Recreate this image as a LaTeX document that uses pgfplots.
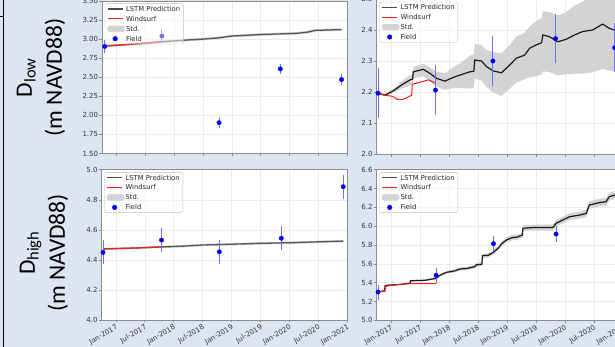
\documentclass[border=0pt]{standalone}
\usepackage{pgfplots}
\pgfplotsset{compat=1.18}
\usepackage{pgfplotstable}
\usepackage{fontspec}
\setmainfont{DejaVu Sans}
\newfontfamily\carlito{Carlito}
\definecolor{bgblue}{HTML}{DCE6F2}
\definecolor{spine}{HTML}{8C8C8C}
\definecolor{stdgray}{HTML}{D3D3D3}
\definecolor{errblue}{HTML}{7070FF}
\definecolor{wsred}{HTML}{FF1A1A}

\pgfplotstableread{
x y
2016.80 2.910
2017.00 2.918
2017.30 2.935
2017.55 2.950
2017.79 2.965
2018.15 2.985
2018.50 3.000
2018.75 3.015
2019.00 3.040
2019.50 3.060
2020.10 3.075
2020.30 3.090
2020.45 3.115
2020.90 3.125
}\tlLSTM

\pgfplotstableread{
x y
2016.782 2.197
2016.902 2.191
2017.045 2.205
2017.189 2.224
2017.332 2.240
2017.375 2.242
2017.388 2.266
2017.560 2.274
2017.675 2.261
2017.790 2.245
2017.933 2.236
2018.076 2.248
2018.247 2.259
2018.363 2.266
2018.431 2.268
2018.448 2.304
2018.564 2.301
2018.649 2.283
2018.763 2.269
2018.907 2.263
2019.050 2.288
2019.165 2.310
2019.308 2.320
2019.393 2.342
2019.509 2.353
2019.600 2.360
2019.622 2.385
2019.737 2.379
2019.880 2.363
2020.024 2.371
2020.167 2.385
2020.309 2.396
2020.481 2.401
2020.653 2.420
2020.768 2.406
2020.854 2.401
2021.000 2.400
}\trLSTM

\pgfplotstableread{
x y
2016.78 4.473
2017.00 4.475
2017.40 4.480
2017.79 4.486
2018.20 4.492
2018.51 4.499
2019.00 4.504
2019.50 4.510
2020.10 4.515
2020.50 4.520
2020.93 4.525
}\blLSTM

\pgfplotstableread{
x y
2016.777 5.300
2016.873 5.311
2016.893 5.311
2016.902 5.368
2016.988 5.375
2017.160 5.380
2017.275 5.390
2017.330 5.395
2017.340 5.420
2017.590 5.425
2017.784 5.446
2017.850 5.480
2017.962 5.510
2018.105 5.525
2018.190 5.545
2018.306 5.550
2018.448 5.570
2018.478 5.590
2018.570 5.595
2018.580 5.686
2018.677 5.690
2018.763 5.720
2018.849 5.765
2018.907 5.810
2018.993 5.853
2019.079 5.876
2019.192 5.886
2019.268 5.906
2019.278 5.978
2019.450 5.985
2019.794 5.985
2019.852 6.031
2019.966 6.066
2020.081 6.100
2020.253 6.118
2020.368 6.135
2020.424 6.225
2020.596 6.250
2020.711 6.260
2020.768 6.313
2020.854 6.330
2021.000 6.360
}\brLSTM

\pgfplotsset{
  panel/.style={
    scale only axis,
    axis background/.style={fill=white},
    xmin=2016.75, xmax=2021,
    xtick={2017,2017.5,2018,2018.5,2019,2019.5,2020,2020.5,2021},
    tick align=outside, tick pos=left, major tick length=2.5pt,
    tick style={spine, line width=0.5pt},
    axis line style={spine, line width=0.6pt},
    grid=major, grid style={black!8, line width=0.4pt},
    tick label style={font=\fontsize{7}{8}\selectfont, text=black!80},
    yticklabel style={inner sep=1pt},
    /pgf/number format/assume math mode=true,
    legend cell align=left,
    legend image code/.code={\draw[mark repeat=2,mark phase=2,#1] plot coordinates {(0pt,0pt) (7.5pt,0pt) (15pt,0pt)};},
    legend style={at={(0,1)}, anchor=north west, xshift=3pt, yshift=-2.5pt,
      draw=black!25, fill=white, fill opacity=0.45, text opacity=1, draw opacity=1,
      rounded corners=1.5pt, font=\fontsize{6.8}{8}\selectfont, text=black!85,
      inner xsep=2pt, inner ysep=1.5pt, row sep=2.3pt,
      nodes={inner sep=1.2pt, text height=5pt, text depth=0.2pt}},
  },
  xlab/.style={
    xticklabels={Jan-2017,Jul-2017,Jan-2018,Jul-2018,Jan-2019,Jul-2019,Jan-2020,Jul-2020,Jan-2021},
    xticklabel style={rotate=30, anchor=north east, inner sep=1pt},
  },
  nolab/.style={xticklabels={}},
  fieldstyle/.style={only marks, mark=*, mark size=2.2pt, color=blue, forget plot,
    error bars/.cd, y dir=both, y explicit, error mark=none,
    error bar style={errblue, line width=0.8pt}},
}

\newcommand{\mylegend}{%
  \addlegendimage{color=black!70, line width=1.3pt, opacity=1}
  \addlegendentry{LSTM Prediction}
  \addlegendimage{color=wsred, line width=1.2pt, opacity=1}
  \addlegendentry{Windsurf}
  \addlegendimage{area legend, color=stdgray, fill=stdgray, opacity=1}
  \addlegendentry{Std.}
  \addlegendimage{only marks, mark=*, color=blue, mark size=2.3pt, opacity=1}
  \addlegendentry{Field}
}

\begin{document}
\begin{tikzpicture}
\fill[bgblue] (0pt,0pt) rectangle (615pt,347pt);
\draw[black, line width=0.9pt] (3pt,0pt) -- (3pt,347pt);
\draw[black, line width=0.9pt] (0pt,331pt) -- (3pt,331pt);

% ---------- Top-left ----------
\begin{axis}[panel, nolab, at={(101.8pt,193.5pt)}, anchor=south west,
  width=245.5pt, height=152.5pt, ymin=1.5, ymax=3.5,
  ytick={1.5,1.75,2,2.25,2.5,2.75,3,3.25,3.5},
  yticklabel style={/pgf/number format/.cd, fixed, fixed zerofill, precision=2}]
\addplot[stdgray, line width=2.6pt, forget plot] table[x=x, y=y] {\tlLSTM};
\addplot[black!65, line width=1.3pt, forget plot] table[x=x, y=y] {\tlLSTM};
\addplot[wsred, line width=1pt, forget plot] coordinates {(2016.80,2.910) (2017.00,2.920) (2017.30,2.935) (2017.55,2.950) (2017.79,2.968)};
\addplot[fieldstyle] coordinates {
 (2016.80,2.904) +- (0,0.08)
 (2017.79,3.040) +- (0,0.09)
 (2018.78,1.904) +- (0,0.07)
 (2019.84,2.610) +- (0,0.07)
 (2020.90,2.470) +- (0,0.07)
};
\mylegend
\end{axis}

% ---------- Top-right ----------
\begin{axis}[panel, nolab, at={(376.3pt,192.7pt)}, anchor=south west,
  width=246.5pt, height=155pt, ymin=2.0, ymax=2.5,
  ytick={2.0,2.1,2.2,2.3,2.4,2.5},
  yticklabel style={/pgf/number format/.cd, fixed, fixed zerofill, precision=1}]
\addplot[fill=stdgray, draw=none, forget plot] coordinates {
 (2016.782,2.198)(2016.902,2.194)(2017.045,2.212)(2017.189,2.236)(2017.332,2.255)
 (2017.375,2.258)(2017.388,2.282)(2017.560,2.292)(2017.675,2.280)(2017.790,2.266)
 (2017.933,2.262)(2018.076,2.280)(2018.247,2.300)(2018.363,2.318)(2018.431,2.322)
 (2018.448,2.356)(2018.564,2.352)(2018.649,2.336)(2018.763,2.330)(2018.907,2.325)
 (2019.050,2.352)(2019.165,2.380)(2019.308,2.392)(2019.393,2.412)(2019.509,2.430)
 (2019.600,2.440)(2019.622,2.462)(2019.737,2.458)(2019.880,2.448)(2020.024,2.458)
 (2020.167,2.480)(2020.309,2.492)(2020.481,2.512)(2020.653,2.532)(2020.768,2.525)
 (2020.854,2.522)(2021.000,2.520)
 (2021.000,2.270)(2020.854,2.268)(2020.768,2.270)(2020.653,2.275)(2020.481,2.265)
 (2020.309,2.260)(2020.167,2.260)(2020.024,2.258)(2019.880,2.255)(2019.737,2.265)
 (2019.622,2.268)(2019.600,2.258)(2019.509,2.252)(2019.393,2.248)(2019.308,2.242)
 (2019.165,2.232)(2019.050,2.212)(2018.907,2.188)(2018.763,2.200)(2018.649,2.218)
 (2018.564,2.238)(2018.448,2.245)(2018.431,2.215)(2018.363,2.212)(2018.247,2.214)
 (2018.076,2.213)(2017.933,2.208)(2017.790,2.218)(2017.675,2.235)(2017.560,2.252)
 (2017.388,2.245)(2017.375,2.224)(2017.332,2.222)(2017.189,2.212)(2017.045,2.198)
 (2016.902,2.188)(2016.782,2.196)} -- cycle;
\addplot[black!90, line width=1.2pt, forget plot] table[x=x, y=y] {\trLSTM};
\addplot[wsred, line width=1pt, forget plot] coordinates {
 (2016.782,2.197) (2016.90,2.190) (2017.00,2.188) (2017.06,2.184) (2017.10,2.178)
 (2017.19,2.176) (2017.26,2.181) (2017.33,2.188) (2017.36,2.190) (2017.37,2.226)
 (2017.45,2.230) (2017.55,2.235) (2017.65,2.240) (2017.70,2.236) (2017.77,2.229)};
\addplot[fieldstyle] coordinates {
 (2016.78,2.197) +- (0,0.08)
 (2017.77,2.207) +- (0,0.08)
 (2018.76,2.301) +- (0,0.08)
 (2019.84,2.373) +- (0,0.08)
 (2020.86,2.344) +- (0,0.08)
};
\mylegend
\end{axis}

% ---------- Bottom-left ----------
\begin{axis}[panel, xlab, at={(101.3pt,27pt)}, anchor=south west,
  width=246pt, height=150.3pt, ymin=4.0, ymax=5.0,
  ytick={4.0,4.2,4.4,4.6,4.8,5.0},
  yticklabel style={/pgf/number format/.cd, fixed, fixed zerofill, precision=1}]
\addplot[stdgray, line width=2.4pt, forget plot] table[x=x, y=y] {\blLSTM};
\addplot[black!65, line width=1.3pt, forget plot] table[x=x, y=y] {\blLSTM};
\addplot[wsred, line width=1pt, forget plot] coordinates {(2016.78,4.473) (2017.30,4.478) (2017.79,4.487)};
\addplot[fieldstyle] coordinates {
 (2016.78,4.450) +- (0,0.08)
 (2017.79,4.532) +- (0,0.08)
 (2018.79,4.454) +- (0,0.08)
 (2019.86,4.544) +- (0,0.08)
 (2020.93,4.887) +- (0,0.08)
};
\mylegend
\end{axis}

% ---------- Bottom-right ----------
\begin{axis}[panel, xlab, at={(376.3pt,26.7pt)}, anchor=south west,
  width=246.5pt, height=150.6pt, ymin=5.0, ymax=6.6,
  ytick={5.0,5.2,5.4,5.6,5.8,6.0,6.2,6.4,6.6},
  yticklabel style={/pgf/number format/.cd, fixed, fixed zerofill, precision=1}]
\addplot[fill=stdgray, draw=none, forget plot] coordinates {
 (2016.777,5.304)(2016.873,5.316)(2016.893,5.316)(2016.902,5.374)(2016.988,5.381)
 (2017.160,5.387)(2017.275,5.398)(2017.330,5.403)(2017.340,5.429)(2017.590,5.435)
 (2017.784,5.458)(2017.850,5.493)(2017.962,5.524)(2018.105,5.541)(2018.190,5.562)
 (2018.306,5.568)(2018.448,5.589)(2018.478,5.610)(2018.570,5.616)(2018.580,5.708)
 (2018.677,5.713)(2018.763,5.744)(2018.849,5.790)(2018.907,5.836)(2018.993,5.880)
 (2019.079,5.904)(2019.192,5.914)(2019.268,5.935)(2019.278,6.008)(2019.450,6.016)
 (2019.794,6.018)(2019.852,6.065)(2019.966,6.101)(2020.081,6.136)(2020.253,6.155)
 (2020.368,6.173)(2020.424,6.264)(2020.596,6.290)(2020.711,6.301)(2020.768,6.355)
 (2020.854,6.373)(2021.000,6.404)
 (2021.000,6.316)(2020.854,6.287)(2020.768,6.271)(2020.711,6.219)(2020.596,6.210)
 (2020.424,6.186)(2020.368,6.097)(2020.253,6.081)(2020.081,6.064)(2019.966,6.031)
 (2019.852,5.997)(2019.794,5.952)(2019.450,5.954)(2019.278,5.948)(2019.268,5.877)
 (2019.192,5.858)(2019.079,5.848)(2018.993,5.826)(2018.907,5.784)(2018.849,5.740)
 (2018.763,5.696)(2018.677,5.667)(2018.580,5.664)(2018.570,5.574)(2018.478,5.570)
 (2018.448,5.551)(2018.306,5.532)(2018.190,5.528)(2018.105,5.509)(2017.962,5.496)
 (2017.850,5.467)(2017.784,5.434)(2017.590,5.415)(2017.340,5.411)(2017.330,5.387)
 (2017.275,5.382)(2017.160,5.373)(2016.988,5.369)(2016.902,5.362)(2016.893,5.306)
 (2016.873,5.306)(2016.777,5.296)} -- cycle;
\addplot[black!90, line width=1.2pt, forget plot] table[x=x, y=y] {\brLSTM};
\addplot[wsred, line width=1pt, forget plot] coordinates {
 (2016.777,5.300) (2016.873,5.311) (2016.90,5.311) (2016.91,5.360) (2017.00,5.370)
 (2017.20,5.385) (2017.40,5.390) (2017.784,5.390)};
\addplot[fieldstyle] coordinates {
 (2016.78,5.300) +- (0,0.08)
 (2017.78,5.478) +- (0,0.08)
 (2018.77,5.814) +- (0,0.08)
 (2019.85,5.917) +- (0,0.08)
};
\mylegend
\end{axis}

% ---------- y labels ----------
\node[rotate=90, align=center, inner sep=0pt, font=\carlito\fontsize{23.5}{30}\selectfont]
  at (41pt,269.5pt) {D\textsubscript{low}\\(m NAVD88)};
\node[rotate=90, align=center, inner sep=0pt, font=\carlito\fontsize{23.5}{30}\selectfont]
  at (44pt,94pt) {D\textsubscript{high}\\(m NAVD88)};
\pgfresetboundingbox
\path[use as bounding box] (0pt,0pt) rectangle (615pt,347pt);
\end{tikzpicture}
\end{document}
